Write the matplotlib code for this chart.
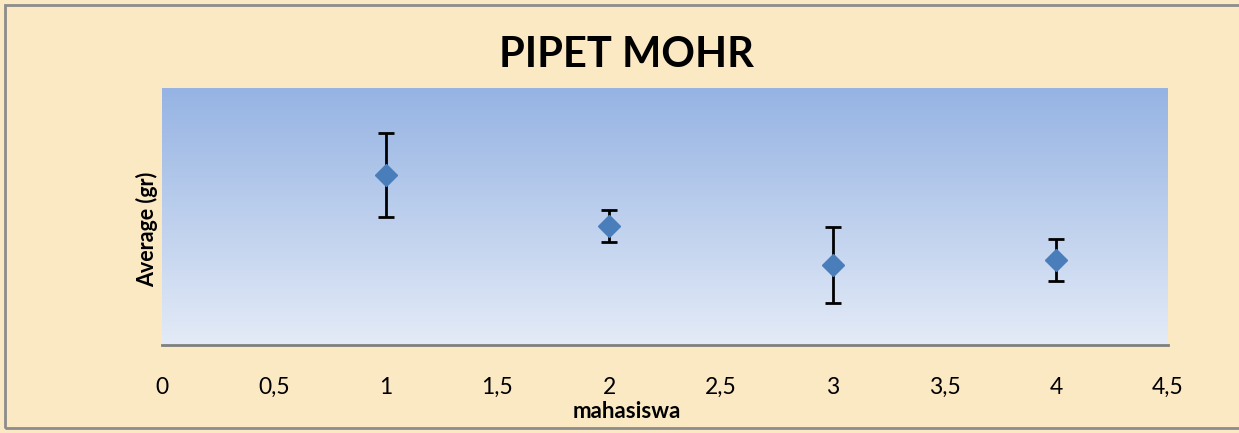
import matplotlib
matplotlib.use("Agg")
import matplotlib.pyplot as plt
from matplotlib.patches import Rectangle
from matplotlib.ticker import FuncFormatter
import numpy as np

# data (y axis has no labels, relative units)
mahasiswa = [1, 2, 3, 4]
average   = [0.661, 0.463, 0.311, 0.331]
error     = [0.163, 0.064, 0.148, 0.082]
xticks    = [0, 0.5, 1, 1.5, 2, 2.5, 3, 3.5, 4, 4.5]

BG = "#fbe9c4"

fig = plt.figure(figsize=(12.39, 4.33), dpi=100, facecolor=BG)
ax = fig.add_axes([0.1308, 0.2032, 0.8119, 0.5936])

# blue gradient plot area
grad = np.linspace(0, 1, 256).reshape(-1, 1)
top = np.array([0x95, 0xb3, 0xe3]) / 255
bot = np.array([0xe4, 0xeb, 0xf7]) / 255
img = top * (1 - grad)[:, :, None] + bot * grad[:, :, None]
ax.imshow(img, extent=[0, 1, 0, 1], transform=ax.transAxes,
          aspect="auto", zorder=0)

ax.errorbar(mahasiswa, average, yerr=error, fmt="none", ecolor="black",
            elinewidth=2, capsize=6, capthick=2, zorder=2)
ax.plot(mahasiswa, average, "D", color="#4a7ebb", markersize=11, zorder=3)

ax.set_xlim(0, 4.5)
ax.set_ylim(0, 1)
ax.set_xticks(xticks)
ax.xaxis.set_major_formatter(FuncFormatter(lambda v, p: ("%g" % v).replace(".", ",")))
ax.set_yticks([])
ax.tick_params(axis="x", length=0, pad=23, labelsize=16.5)
for lab in ax.get_xticklabels():
    lab.set_family("Lato")

for s in ["top", "left", "right"]:
    ax.spines[s].set_visible(False)
ax.spines["bottom"].set_color("#7f7f7f")
ax.spines["bottom"].set_linewidth(2)

fig.text(0.5055, 1 - 55 / 433, "PIPET MOHR", ha="center", va="center",
         fontsize=30, fontweight="bold", family="Lato")
fig.text(0.5055, 1 - 412 / 433, "mahasiswa", ha="center", va="center",
         fontsize=16, fontweight="bold", family="Lato")
fig.text(147 / 1239, 1 - 229 / 433, "Average (gr)", ha="center", va="center",
         rotation=90, fontsize=15.5, fontweight="bold", family="Lato")

# outer chart border
fig.patches.append(Rectangle((5 / 1239, 5 / 433), 1.2, 1 - 10 / 433,
                             transform=fig.transFigure, fill=False,
                             edgecolor="#8c8c8c", linewidth=2))

fig.savefig("out.png", dpi=100, facecolor=BG)
